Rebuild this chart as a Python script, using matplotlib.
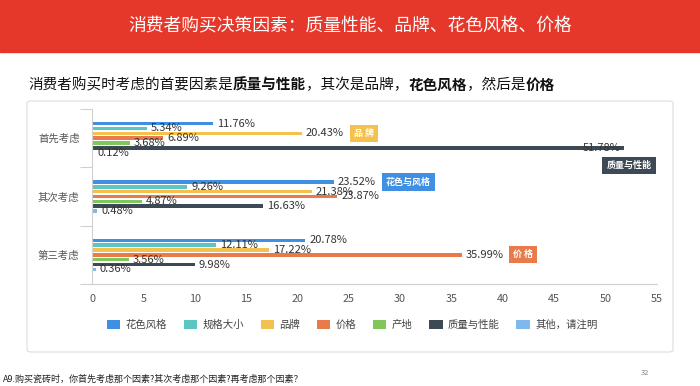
import numpy as np
import matplotlib.pyplot as plt
from matplotlib.patches import FancyBboxPatch, Rectangle

plt.rcParams['font.family'] = ['Noto Sans CJK SC', 'DejaVu Sans']

# data
groups = ['首先考虑', '其次考虑', '第三考虑']
series = ['花色风格', '规格大小', '品牌', '价格', '产地', '质量与性能', '其他，请注明']
colors = ['#3f8fe3', '#5cc6c2', '#f4c14f', '#e97a4b', '#7fc75b', '#3d4954', '#7db9ec']
hua_se = [11.76, 23.52, 20.78]
gui_ge = [5.34, 9.26, 12.11]
pin_pai = [20.43, 21.38, 17.22]
jia_ge = [6.89, 23.87, 35.99]
chan_di = [3.68, 4.87, 3.56]
zhi_liang = [51.78, 16.63, 9.98]
qi_ta = [0.12, 0.48, 0.36]
values = [hua_se, gui_ge, pin_pai, jia_ge, chan_di, zhi_liang, qi_ta]

fig = plt.figure(figsize=(7, 3.86), dpi=100)
W, H = 700, 386

# red banner
fig.patches.append(Rectangle((0, 1 - 52 / H), 1, 52 / H, transform=fig.transFigure,
                             color='#e5382b', zorder=-1))
fig.text(0.5, 1 - 25 / H, '消费者购买决策因素：质量性能、品牌、花色风格、价格',
         color='white', fontsize=12.8, ha='center', va='center')

# panel box
fig.patches.append(FancyBboxPatch((27 / W, 1 - 352 / H), 646 / W, 251 / H,
                                  boxstyle='round,pad=0,rounding_size=0.006',
                                  transform=fig.transFigure, facecolor='white',
                                  edgecolor='#dcdcdc', linewidth=0.8, zorder=-1))

# subtitle with bold parts
parts = [('消费者购买时考虑的首要因素是', 'normal'), ('质量与性能', 'bold'),
         ('，其次是品牌，', 'normal'), ('花色风格', 'bold'), ('，然后是', 'normal'),
         ('价格', 'bold')]
renderer = fig.canvas.get_renderer()
x = 28
for txt, wt in parts:
    t = fig.text(x / W, 1 - 85 / H, txt, fontsize=10.5, fontweight=wt,
                 color='#111111', ha='left', va='center')
    x += t.get_window_extent(renderer).width

ax = fig.add_axes([92 / W, 1 - 284 / H, 565 / W, 175 / H])
ax.set_zorder(2)
ypos = np.arange(len(groups))
step = 0.083
bh = 0.058
for i, (name, vals, c) in enumerate(zip(series, values, colors)):
    yy = ypos + (i - 3) * step
    ax.barh(yy, vals, height=bh, color=c, label=name, zorder=2)
    for y, v in zip(yy, vals):
        if v > 50:
            ax.text(v - 0.3, y, f'{v:.2f}%', ha='right', va='center', fontsize=8,
                    color='#333333', zorder=3)
        else:
            ax.text(v + 0.4, y, f'{v:.2f}%', ha='left', va='center', fontsize=8,
                    color='#333333', zorder=3)

# callout tags
tag = dict(fontsize=6.5, color='white', fontweight='bold', va='center', zorder=4)
box = 'square,pad=0.45'
ax.text(pin_pai[0] + 5.1, 0 - step, '品 牌', ha='left',
        bbox=dict(boxstyle=box, fc=colors[2], ec='none'), **tag)
ax.text(zhi_liang[0] + 0.5, 0 + 0.47, '质量与性能', ha='center',
        bbox=dict(boxstyle=box, fc=colors[5], ec='none'), **tag)
ax.text(hua_se[1] + 5.1, 1 - 3 * step, '花色与风格', ha='left',
        bbox=dict(boxstyle=box, fc=colors[0], ec='none'), **tag)
ax.text(jia_ge[2] + 5.0, 2, '价 格', ha='left',
        bbox=dict(boxstyle=box, fc=colors[3], ec='none'), **tag)

ax.set_xlim(0, 55)
ax.set_ylim(2.5, -0.5)
ax.set_xticks(np.arange(0, 56, 5))
ax.set_yticks(ypos)
ax.set_yticklabels(groups)
ax.set_yticks([-0.5, 0.5, 1.5, 2.5], minor=True)
ax.tick_params(axis='y', which='major', length=0, pad=9, labelsize=7.5, labelcolor='#555555')
ax.tick_params(axis='y', which='minor', length=9, color='#d0d0d0', width=0.8)
ax.tick_params(axis='x', length=0, pad=7, labelsize=7.8, labelcolor='#555555')
for s in ['top', 'right']:
    ax.spines[s].set_visible(False)
ax.spines['left'].set_color('#d0d0d0')
ax.spines['bottom'].set_color('#d0d0d0')
ax.set_facecolor('none')

fig.legend(loc='center', bbox_to_anchor=(352 / W, 1 - 325 / H), ncol=7, frameon=False,
           fontsize=7.5, handlelength=1.3, handleheight=0.9, handletextpad=0.5,
           columnspacing=1.6, labelcolor='#444444')

fig.text(3 / W, 1 - 379 / H, 'A9.购买瓷砖时，你首先考虑那个因素?其次考虑那个因素?再考虑那个因素？',
         fontsize=6.5, color='#222222', ha='left', va='center')
fig.text(645 / W, 1 - 373 / H, '32', fontsize=5.5, color='#888888', ha='center', va='center')

fig.savefig('out.png', dpi=100)
